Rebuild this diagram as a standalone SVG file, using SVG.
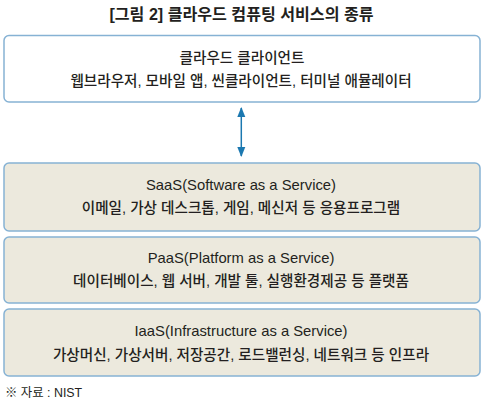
<svg xmlns="http://www.w3.org/2000/svg" width="485" height="402" viewBox="0 0 485 402">
<style>
.t{font-family:"Liberation Sans","Noto Sans CJK KR",sans-serif;fill:#231f20;text-anchor:middle}
.k{font-size:14.6px;font-weight:500}
.e{font-size:14.8px}
.box{stroke:#86b2d4;stroke-width:1.5}
.layer{fill:#ece9dd}
</style>
<defs>
<marker id="ah" viewBox="0 0 10 10" refX="9" refY="5" markerWidth="10" markerHeight="10" markerUnits="userSpaceOnUse" orient="auto-start-reverse">
<path d="M0,1 L10,5 L0,9 Z" fill="#1b78b0"/>
</marker>
</defs>
<rect width="485" height="402" fill="#ffffff"/>
<text class="t" x="241.5" y="19.5" style="font-size:16.1px;font-weight:bold">[그림 2] 클라우드 컴퓨팅 서비스의 종류</text>
<g id="client">
<rect class="box" x="4" y="35.5" width="476" height="66.5" rx="5" fill="#ffffff"/>
<text class="t k" x="242" y="63">클라우드 클라이언트</text>
<text class="t k" x="241" y="86">웹브라우저, 모바일 앱, 씬클라이언트, 터미널 애뮬레이터</text>
</g>
<g id="connectors">
<line x1="241.3" y1="108" x2="241.3" y2="156" stroke="#1b78b0" stroke-width="1.5" marker-start="url(#ah)" marker-end="url(#ah)"/>
</g>
<g id="saas">
<rect class="box layer" x="4" y="163" width="476" height="68" rx="5"/>
<text class="t e" x="241" y="189.5">SaaS(Software as a Service)</text>
<text class="t k" x="241" y="213">이메일, 가상 데스크톱, 게임, 메신저 등 응용프로그램</text>
</g>
<g id="paas">
<rect class="box layer" x="4" y="237" width="476" height="66" rx="5"/>
<text class="t e" x="241" y="262.5">PaaS(Platform as a Service)</text>
<text class="t k" x="241" y="286">데이터베이스, 웹 서버, 개발 툴, 실행환경제공 등 플랫폼</text>
</g>
<g id="iaas">
<rect class="box layer" x="4" y="309" width="476" height="67" rx="5"/>
<text class="t e" x="241" y="336">IaaS(Infrastructure as a Service)</text>
<text class="t k" x="241" y="359.5">가상머신, 가상서버, 저장공간, 로드밸런싱, 네트워크 등 인프라</text>
</g>
<text x="5" y="397" style="font-family:'Liberation Sans','Noto Sans CJK KR',sans-serif;font-size:12.4px;fill:#231f20">※ 자료 : NIST</text>
</svg>
